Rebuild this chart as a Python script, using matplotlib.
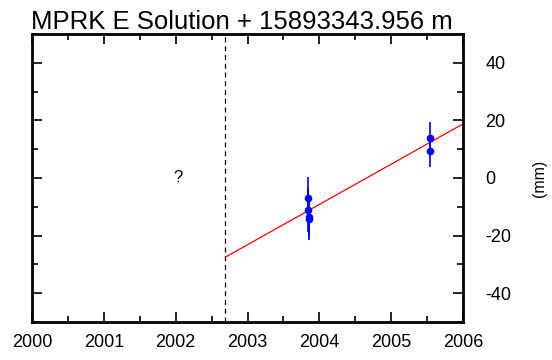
import numpy as np
import matplotlib
matplotlib.use('Agg')
import matplotlib.pyplot as plt
from matplotlib.ticker import MultipleLocator

plt.rcParams['font.family'] = ['Liberation Sans', 'DejaVu Sans']
plt.rcParams['axes.unicode_minus'] = False

# east component observations (decimal year, mm, 1-sigma mm)
obs_t = [2003.84, 2003.84, 2003.85, 2003.85, 2005.54, 2005.54]
obs_e = [-6.8, -11.1, -13.4, -14.4, 13.8, 9.4]
obs_sig = [7.0, 7.5, 7.0, 7.2, 5.8, 5.6]

# fitted linear trend, drawn from the antenna change onward
fit_t = [2002.69, 2006.0]
fit_e = [-27.5, 18.8]
break_t = 2002.69

title = 'MPRK E Solution + 15893343.956 m'

fig = plt.figure(figsize=(5.52, 3.6), dpi=100)
ax = fig.add_axes([0.058, 0.1056, 0.781, 0.80])

ax.plot(fit_t, fit_e, color='red', lw=0.9, zorder=2)
ax.errorbar(obs_t, obs_e, yerr=obs_sig, fmt='o', color='blue', ms=4.5,
            elinewidth=1.2, capsize=0, zorder=3)
ax.axvline(break_t, color='black', ls=(0, (4, 3)), lw=0.9, zorder=1)
ax.text(2002.03, 0, '?', ha='center', va='center', fontsize=12)

ax.set_xlim(2000, 2006)
ax.set_ylim(-50, 50)
ax.xaxis.set_major_locator(MultipleLocator(1))
ax.xaxis.set_minor_locator(MultipleLocator(0.5))
ax.yaxis.set_major_locator(MultipleLocator(20))
ax.yaxis.set_minor_locator(MultipleLocator(10))
ax.xaxis.set_major_formatter(matplotlib.ticker.FormatStrFormatter('%d'))

ax.yaxis.tick_right()
ax.yaxis.set_label_position('right')
ax.tick_params(which='both', direction='in', top=True, bottom=True,
               left=True, right=True, labelsize=13, width=1.2)
ax.tick_params(which='major', length=7)
ax.tick_params(which='minor', length=4)
ax.tick_params(axis='y', pad=16)
ax.tick_params(axis='x', pad=9)
for s in ax.spines.values():
    s.set_linewidth(2)

ax.set_ylabel('(mm)', fontsize=11.5, labelpad=15)
ax.set_title(title, loc='left', fontsize=18.5, pad=2, x=-0.003)

fig.savefig('out.png', dpi=100)
